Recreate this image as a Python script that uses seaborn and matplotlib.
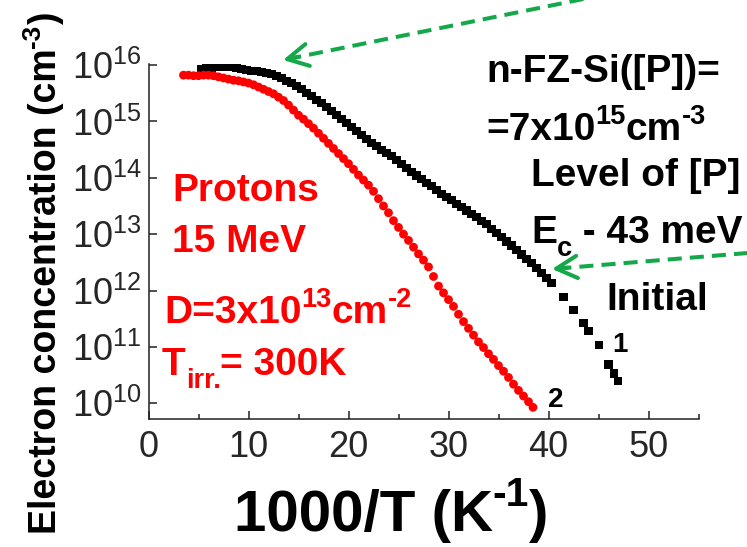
import numpy as np
import matplotlib
matplotlib.use("Agg")
import matplotlib.pyplot as plt
from matplotlib.lines import Line2D
from matplotlib.ticker import FixedLocator, LogLocator, LogFormatterSciNotation, NullFormatter
import seaborn as sns

# --- data (x = 1000/T in 1/K, y = log10 of n in cm^-3) ---
initial_x = [5.3, 5.8, 6.3, 6.8, 7.3, 7.8, 8.3, 8.8, 9.3, 9.8, 10.3, 10.8, 11.3, 11.8,
             12.3, 12.8, 13.3, 13.8, 14.3, 14.8, 15.3, 15.8, 16.3, 16.8, 17.3, 17.8,
             18.3, 18.8, 19.3, 19.8, 20.3, 20.8, 21.3, 21.8, 22.3, 22.8, 23.3, 23.8,
             24.3, 24.8, 25.3, 25.8, 26.3, 26.8, 27.3, 27.8, 28.3, 28.8, 29.3, 29.8,
             30.3, 30.8, 31.3, 31.8, 32.3, 32.8, 33.3, 33.8, 34.3, 34.8, 35.3, 35.8,
             36.3, 36.8, 37.3, 37.8, 38.3, 38.8, 39.3, 39.8, 40.3,
             41.5, 42.5, 43.5, 44.0, 45.05, 46.0, 46.55, 46.98]
initial_log_n = [15.93, 15.94, 15.95, 15.96, 15.97, 15.97, 15.96, 15.95, 15.93, 15.91,
                 15.90, 15.89, 15.88, 15.86, 15.84, 15.81, 15.77, 15.72, 15.68, 15.63,
                 15.58, 15.51, 15.45, 15.38, 15.32, 15.25, 15.18, 15.11, 15.04, 14.97,
                 14.90, 14.83, 14.76, 14.69, 14.62, 14.56, 14.50, 14.44, 14.38, 14.31,
                 14.24, 14.17, 14.11, 14.04, 13.98, 13.91, 13.85, 13.78, 13.72, 13.66,
                 13.60, 13.54, 13.48, 13.42, 13.36, 13.30, 13.24, 13.18, 13.10, 13.02,
                 12.95, 12.87, 12.80, 12.72, 12.64, 12.56, 12.49, 12.40, 12.31, 12.22,
                 12.14,
                 11.88, 11.65, 11.43, 11.28, 11.03, 10.69, 10.53, 10.39]

protons_x = [3.5, 4.0, 4.5, 5.0, 5.5, 6.0, 6.5, 7.0, 7.5, 8.0, 8.5, 9.0, 9.5, 10.0,
             10.5, 11.0, 11.5, 12.0, 12.5, 13.0, 13.5, 14.0, 14.5, 15.0, 15.5, 16.0,
             16.5, 17.0, 17.5, 18.0, 18.5, 19.0, 19.5, 20.0, 20.5, 21.0, 21.5, 22.0,
             22.5, 23.0, 23.5, 24.0, 24.5, 25.0, 25.5, 26.0, 26.5, 27.0, 27.5, 28.0,
             28.5, 29.0, 29.5, 30.0, 30.5, 31.0, 31.5, 32.0, 32.5, 33.0, 33.5, 34.0,
             34.5, 35.0, 35.5, 36.0, 36.5, 37.0, 37.5, 38.0, 38.45]
protons_log_n = [15.82, 15.82, 15.81, 15.81, 15.82, 15.82, 15.81, 15.79, 15.77, 15.75,
                 15.73, 15.72, 15.70, 15.68, 15.65, 15.61, 15.57, 15.53, 15.49, 15.43,
                 15.37, 15.29, 15.20, 15.11, 15.04, 14.96, 14.88, 14.79, 14.70, 14.61,
                 14.52, 14.43, 14.34, 14.25, 14.15, 14.05, 13.96, 13.87, 13.76, 13.63,
                 13.50, 13.38, 13.24, 13.12, 13.00, 12.89, 12.77, 12.65, 12.54, 12.42,
                 12.25, 12.08, 11.96, 11.84, 11.72, 11.58, 11.45, 11.33, 11.21, 11.09,
                 10.99, 10.88, 10.78, 10.67, 10.57, 10.46, 10.34, 10.23, 10.13, 10.03,
                 9.93]

x_ticks = [0, 10, 20, 30, 40, 50]
y_decades = [1e10, 1e11, 1e12, 1e13, 1e14, 1e15, 1e16]

W, H = 747, 547
GREEN = "#14a84a"
RED = "#ff0000"

sns.set_style("ticks")
plt.rcParams["font.family"] = ["Liberation Sans", "DejaVu Sans"]
plt.rcParams["mathtext.fontset"] = "custom"
plt.rcParams["mathtext.rm"] = "Liberation Sans"
plt.rcParams["mathtext.bf"] = "Liberation Sans:bold"


def fpos(x, y):
    # picture pixel (from top-left) -> figure fraction
    return x / W, 1 - y / H


fig = plt.figure(figsize=(W / 100, H / 100), dpi=100)
renderer = fig.canvas.get_renderer()
ax = fig.add_axes([148.5 / W, 1 - 419 / H, 550 / W, (419 - 64) / H])


def advance(s, size):
    # advance width of s in pixels (bracketed by "I" so spaces count)
    def ink(txt):
        t = fig.text(0, 0, txt, fontsize=size, fontweight="bold")
        w = t.get_window_extent(renderer).width
        t.remove()
        return w
    return ink("I" + s + "I") - ink("II")


def rich(parts, x, y, size, color="black", align="left", rotation=0):
    # text with super/subscripts; x, y = start of baseline in picture pixels
    em = size * 100 / 72
    placed, pos = [], 0.0
    for s, kind in parts:
        fs = size if kind == "n" else 0.7 * size
        off = {"n": 0.0, "sup": -0.42 * em, "sub": 0.33 * em}[kind]
        t = fig.text(0, 0, s, fontsize=fs, fontweight="bold", color=color,
                     ha="left", va="baseline", rotation=rotation, rotation_mode="anchor")
        placed.append((t, pos, off))
        pos += advance(s, fs)
    start = pos / 2 if align == "center" else 0.0
    for t, p, off in placed:
        if rotation == 0:
            t.set_position(fpos(x + p - start, y + off))
        else:
            t.set_position(fpos(x + off, y - (p - start)))


sns.scatterplot(x=initial_x, y=10 ** np.array(initial_log_n), marker="s", s=34,
                color="black", edgecolor="none", linewidth=0, legend=False, ax=ax)
sns.scatterplot(x=protons_x, y=10 ** np.array(protons_log_n), marker="o", s=40,
                color=RED, edgecolor="none", linewidth=0, legend=False, ax=ax)

ax.set_yscale("log")
ax.set_xlim(0, 55)
ax.set_ylim(10 ** 9.723, 10 ** 16.018)
ax.xaxis.set_major_locator(FixedLocator(x_ticks))
ax.xaxis.set_minor_locator(FixedLocator([5, 15, 25, 35, 45, 55]))
ax.yaxis.set_major_locator(FixedLocator(y_decades))
ax.yaxis.set_major_formatter(LogFormatterSciNotation())
ax.yaxis.set_minor_locator(LogLocator(base=10, subs=np.arange(2, 10)))
ax.yaxis.set_minor_formatter(NullFormatter())
ax.tick_params(which="both", direction="in", width=1.1, color="#222222",
               labelsize=26, top=False, right=False)
ax.tick_params(which="major", length=6)
ax.tick_params(which="minor", length=3.5)
ax.tick_params(axis="x", pad=8)
ax.tick_params(axis="y", pad=5)
ax.set_xlabel("")
ax.set_ylabel("")
for side in ["top", "right"]:
    ax.spines[side].set_visible(False)
for side in ["left", "bottom"]:
    ax.spines[side].set_linewidth(1.1)
    ax.spines[side].set_color("#222222")

# axis titles
rich([("1000/T (K", "n"), ("-1", "sup"), (")", "n")], 391, 531, 42, align="center")
rich([("Electron concentration (cm", "n"), ("-3", "sup"), (")", "n")], 56, 273, 27,
     align="center", rotation=90)

# annotations
rich([("n-FZ-Si([P])=", "n")], 486, 82, 28)
rich([("=7x10", "n"), ("15", "sup"), ("cm", "n"), ("-3", "sup")], 486, 140, 28)
rich([("Level of [P]", "n")], 531, 186, 28)
rich([("E", "n"), ("c", "sub"), (" - 43 meV", "n")], 531, 243, 28)
rich([("Initial", "n")], 606, 310, 28)

rich([("Protons", "n")], 172, 201, 28, color=RED)
rich([("15 MeV", "n")], 172, 252, 28, color=RED)
rich([("D=3x10", "n"), ("13", "sup"), ("cm", "n"), ("-2", "sup")], 164, 323, 28, color=RED)
rich([("T", "n"), ("irr.", "sub"), ("= 300K", "n")], 162, 375, 28, color=RED)

rich([("1", "n")], 612, 352, 20)
rich([("2", "n")], 548, 407, 20)

# green dashed arrows (tip, tail) in picture pixels
arrows = [((283, 60), (800, -45)), ((552, 269), (760, 252))]
for tip, tail in arrows:
    fig.add_artist(Line2D([fpos(*tail)[0], fpos(*tip)[0]], [fpos(*tail)[1], fpos(*tip)[1]],
                          transform=fig.transFigure, color=GREEN, lw=2.9,
                          dashes=(3.5, 2.0), solid_capstyle="butt"))
    dx, dy = tail[0] - tip[0], tail[1] - tip[1]
    d = np.hypot(dx, dy)
    back = (tip[0] + dx / d * 16, tip[1] + dy / d * 16)
    ax.annotate("", xy=(tip[0], H - tip[1]), xycoords="figure pixels",
                xytext=(back[0], H - back[1]), textcoords="figure pixels",
                annotation_clip=False,
                arrowprops=dict(arrowstyle="->,head_length=0.75,head_width=0.4",
                                color=GREEN, lw=2.9, shrinkA=0, shrinkB=0,
                                mutation_scale=20))

fig.savefig("out.png", dpi=100)
